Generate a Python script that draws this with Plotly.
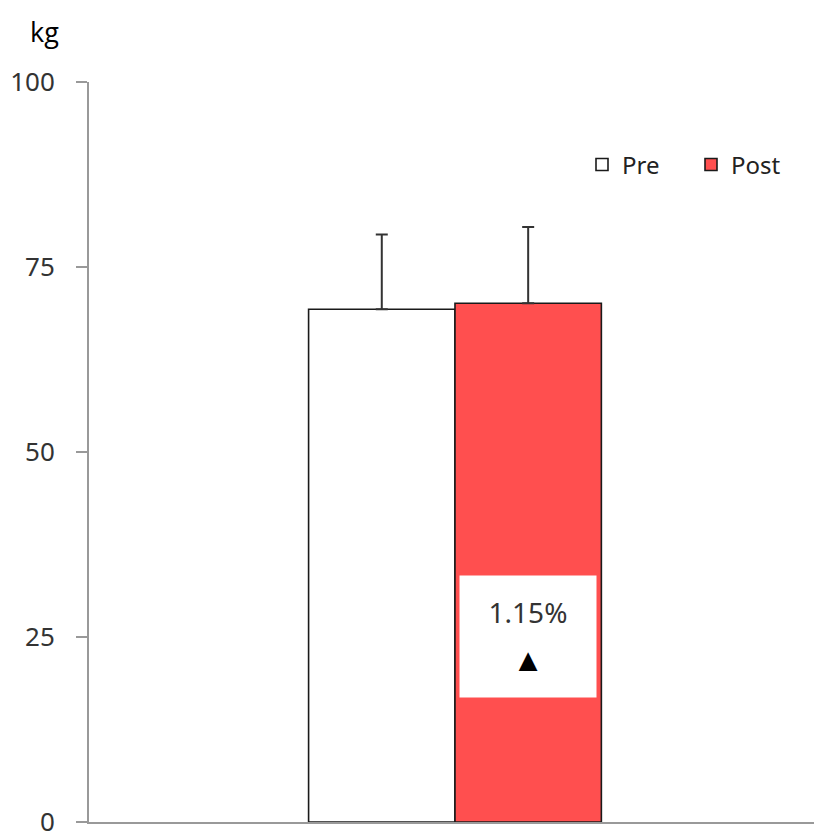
import plotly.graph_objects as go

# Grip strength before and after the programme (kg)
groups = ["Pre", "Post"]
means = [69.3, 70.1]
sd_upper = [10.1, 10.3]
change_label = "1.15%"
category = [""]
y_ticks = [0, 25, 50, 75, 100]

fills = {"Pre": "#FFFFFF", "Post": "#FF4F4F"}
offsets = {"Pre": -0.4, "Post": 0.0}

fig = go.Figure()
for name, m, e in zip(groups, means, sd_upper):
    fig.add_trace(go.Bar(
        name=name,
        x=category,
        y=[m],
        width=0.4,
        offset=offsets[name],
        marker=dict(color=fills[name], line=dict(color="#1a1a1a", width=1.6)),
        error_y=dict(type="data", array=[e], symmetric=False, arrayminus=[0],
                     color="#333333", thickness=2, width=6),
    ))

# Percent-change label inside the Post bar (base size sets the line spacing)
fig.add_annotation(
    x=0.2, y=25.1, xref="x", yref="y",
    text=(f"<span style='font-size:28px'>{change_label}</span><br>"
          f"<span style='font-size:32px;color:#000'>▲</span>"),
    showarrow=False, bgcolor="#FFFFFF", width=134, height=119,
    align="center", valign="middle",
    font=dict(family="Noto Sans", size=37, color="#333333"),
)

# Unit label
fig.add_annotation(
    x=-0.061, y=1.068, xref="paper", yref="paper",
    text="kg", showarrow=False, xanchor="center", yanchor="middle",
    font=dict(family="Open Sans", size=27, color="#000000"),
)

fig.update_layout(
    width=814, height=833,
    margin=dict(l=89, r=0, t=82, b=11, autoexpand=False),
    paper_bgcolor="#FFFFFF", plot_bgcolor="#FFFFFF",
    barmode="overlay",
    showlegend=True,
    legend=dict(
        orientation="h", x=0.68, y=0.888, xanchor="left", yanchor="middle",
        font=dict(family="Noto Sans", size=24, color="#222222"),
        itemwidth=30, entrywidth=64, entrywidthmode="pixels",
        bgcolor="rgba(0,0,0,0)", traceorder="normal",
    ),
    xaxis=dict(
        range=[-1.0, 0.981], showgrid=False, zeroline=False,
        showline=True, linecolor="#999999", linewidth=2,
        showticklabels=False, ticks="",
    ),
    yaxis=dict(
        range=[0, 100], tickvals=y_ticks, showgrid=False, zeroline=False,
        showline=True, linecolor="#999999", linewidth=2,
        ticks="outside", ticklen=11, tickcolor="#999999", tickwidth=2,
        ticklabelstandoff=16, automargin=False, ticklabeloverflow="allow",
        tickfont=dict(family="Noto Sans", size=26, color="#333333"),
    ),
)

fig.write_html("out.html")
